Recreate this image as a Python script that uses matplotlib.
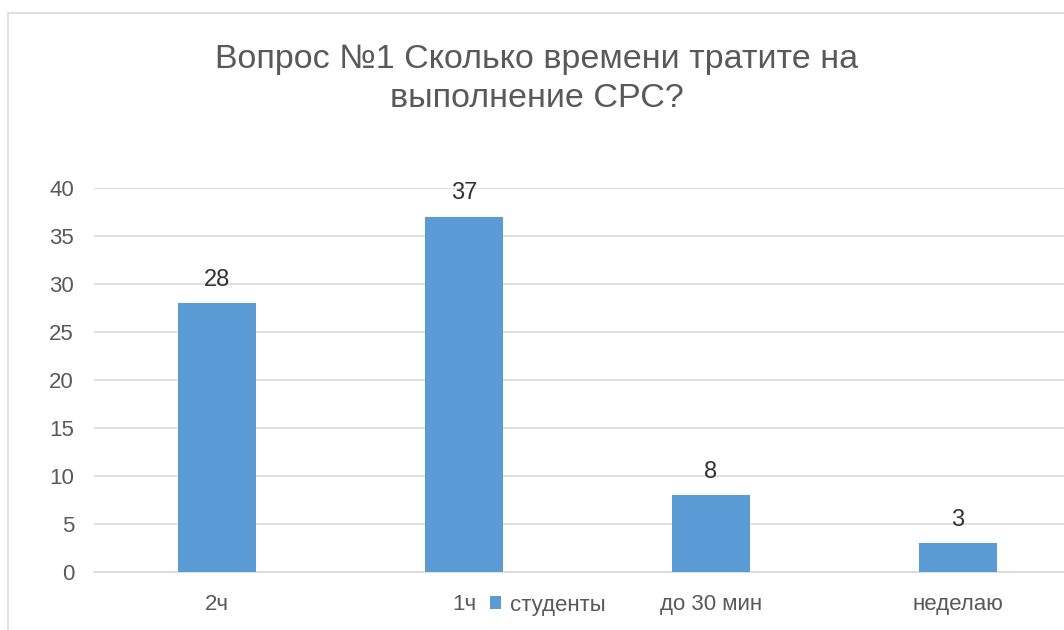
import matplotlib.pyplot as plt
from matplotlib.patches import Rectangle

plt.rcParams['font.family'] = ['Liberation Sans', 'DejaVu Sans']

# данные опроса
categories = ['2ч', '1ч', 'до 30 мин', 'неделаю']
students = [28, 37, 8, 3]
series_name = 'студенты'
title = 'Вопрос №1 Сколько времени тратите на\nвыполнение СРС?'

bar_color = '#5B9BD5'
grid_color = '#D9D9D9'
text_gray = '#595959'

fig = plt.figure(figsize=(10.64, 6.3), dpi=100)
W, H = 1064, 630

# рамка области диаграммы (справа и снизу обрезана)
fig.patches.append(Rectangle((8 / W, -0.1), 1.2, 1 - 13 / H + 0.1,
                             transform=fig.transFigure, fill=False,
                             edgecolor=grid_color, linewidth=1.2))

# область построения выходит за правый край картинки
left = 93.5 / W
right = 1081.5 / W
bottom = 1 - 572 / H
top = 1 - 188 / H
ax = fig.add_axes([left, bottom, right - left, top - bottom])

x = range(len(categories))
bars = ax.bar(x, students, width=0.315, color=bar_color, zorder=3)

ax.set_xlim(-0.5, len(categories) - 0.5)
ax.set_ylim(0, 40)
ax.set_yticks(range(0, 41, 5))
ax.yaxis.grid(True, color=grid_color, linewidth=1.2, zorder=0)
ax.set_axisbelow(True)
for s in ['top', 'right', 'left']:
    ax.spines[s].set_visible(False)
ax.spines['bottom'].set_color(grid_color)
ax.spines['bottom'].set_linewidth(1.2)
ax.tick_params(axis='both', length=0, colors=text_gray, labelsize=16)
ax.tick_params(axis='y', pad=14)
ax.tick_params(axis='x', pad=16)
ax.set_xticks(list(x))
ax.set_xticklabels(categories)

for b, v in zip(bars, students):
    ax.annotate(str(v), (b.get_x() + b.get_width() / 2, v),
                xytext=(0, 9), textcoords='offset points',
                ha='center', va='bottom', fontsize=17, color='#333333')

fig.text(537 / W, 1 - 79 / H, title, ha='center', va='center',
         fontsize=24.5, color=text_gray, linespacing=1.3)

# легенда внизу, как в оригинале
ax.legend([bars[0]], [series_name], loc='center',
          bbox_to_anchor=(548 / W, 1 - 605 / H), bbox_transform=fig.transFigure,
          frameon=False, fontsize=16, labelcolor=text_gray,
          handlelength=0.5, handleheight=0.5, handletextpad=0.4)

fig.savefig('out.png', dpi=100)
